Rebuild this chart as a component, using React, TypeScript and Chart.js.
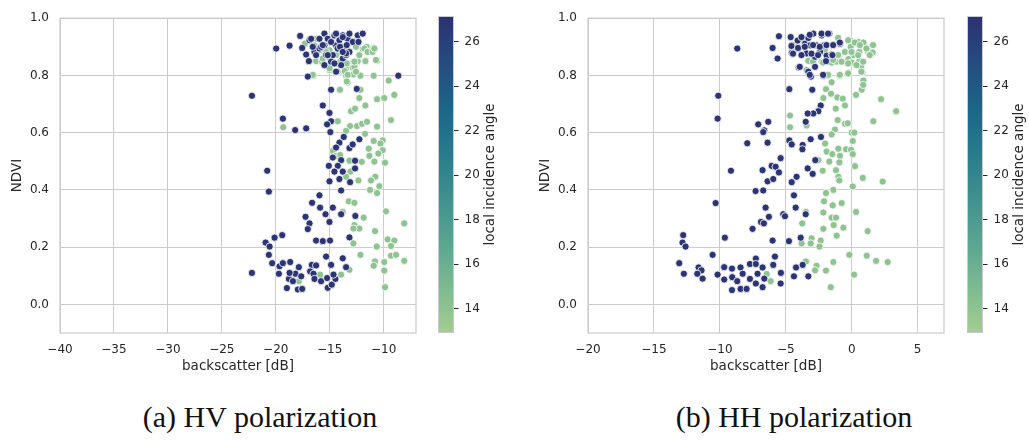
import React, { useEffect, useRef } from "react";
import { Chart, registerables } from "chart.js";

Chart.register(...registerables);

// ---------------- data ----------------
const hvDarkX = [
  -17.74, -19.96, -18.72, -17.55, -16.87, -17.18, -16.93, -16.41, -15.95, -15.49, -15.49, -15.18, -15.02, -14.56,
  -14.41, -13.79, -13.64, -13.33, -13.17, -12.87, -13.79, -12.4, -11.94, -15.49, -14.41, -14.71, -15.95, -14.1,
  -13.48, -17.03, -8.64, -22.21, -14.87, -12.49, -15.64, -15.02, -14.87, -15.24, -14.94, -19.34, -18.2, -17.18,
  -13.7, -14.1, -14.41, -13.17, -12.87, -12.25, -14.71, -13.94, -15.08, -14.25, -14.56, -13.79, -12.65, -12.65,
  -14.1, -13.11, -15.02, -13.94, -20.79, -20.64, -15.95, -16.63, -15.89, -14.71, -15.39, -13.94, -12.62, -17.24,
  -16.87, -15.02, -17.03, -19.4, -20.11, -16.26, -15.64, -14.97, -13.17, -20.94, -20.57, -20.64, -15.33, -13.79,
  -20.33, -22.21, -19.65, -19.34, -18.66, -19.71, -18.78, -18.97, -18.17, -17.86, -17.64, -17.95, -17.55, -16.66,
  -16.26, -16.81, -16.5, -16.41, -15.8, -15.24, -15.18, -14.81, -14.47, -14.87, -13.48, -14.65, -18.72, -18.41,
  -16.57, -15.79, -15.33, -14.26, -13.48, -14.87, -13.94, -16.87, -14.41, -13.79, -13.17, -16.72, -15.64, -14.87,
  -14.04, -13.42, -12.33, -16.26, -15.18, -13.79, -14.56,
];
const hvDarkY = [
  0.938, 0.894, 0.904, 0.896, 0.926, 0.873, 0.85, 0.882, 0.928, 0.946, 0.905, 0.928, 0.865, 0.94,
  0.905, 0.94, 0.9, 0.928, 0.882, 0.917, 0.859, 0.94, 0.946, 0.836, 0.813, 0.871, 0.894, 0.923,
  0.871, 0.796, 0.799, 0.729, 0.75, 0.753, 0.695, 0.669, 0.64, 0.629, 0.602, 0.649, 0.609, 0.615,
  0.585, 0.565, 0.548, 0.546, 0.559, 0.577, 0.513, 0.504, 0.484, 0.484, 0.464, 0.464, 0.502, 0.475,
  0.438, 0.427, 0.43, 0.398, 0.467, 0.394, 0.381, 0.355, 0.338, 0.338, 0.315, 0.315, 0.309, 0.306,
  0.283, 0.288, 0.263, 0.242, 0.233, 0.223, 0.221, 0.223, 0.234, 0.216, 0.202, 0.173, 0.167, 0.161,
  0.144, 0.11, 0.133, 0.144, 0.148, 0.107, 0.089, 0.057, 0.107, 0.13, 0.098, 0.052, 0.054, 0.138,
  0.136, 0.115, 0.107, 0.089, 0.081, 0.092, 0.058, 0.069, 0.089, 0.138, 0.13, 0.104, 0.11, 0.081,
  0.9, 0.9, 0.871, 0.894, 0.877, 0.848, 0.836, 0.923, 0.946, 0.934, 0.946, 0.928, 0.906, 0.917,
  0.9, 0.906, 0.917, 0.871, 0.871, 0.882, 0.842,
];
const hvLightX = [
  -17.3, -16.26, -16.41, -16.01, -16.26, -15.73, -15.02, -14.71, -15.02, -14.25, -14.16, -13.48, -13.33, -12.8,
  -12.87, -12.4, -12.25, -11.94, -11.57, -11.17, -10.95, -11.69, -10.61, -12.56, -13.48, -13.33, -12.8, -12.15,
  -10.92, -16.5, -9.53, -9.01, -9.94, -10.61, -11.69, -12.25, -12.15, -14.1, -13.02, -12.65, -14.25, -13.11,
  -12.47, -12.0, -11.54, -13.48, -11.72, -10.61, -9.32, -19.31, -10.92, -10.09, -10.3, -11.38, -10.09, -14.71,
  -14.41, -14.03, -11.32, -10.49, -13.17, -12.03, -10.86, -9.87, -13.08, -13.48, -10.77, -12.34, -11.17, -10.4,
  -11.26, -10.61, -13.23, -12.71, -13.79, -11.85, -9.78, -12.71, -12.25, -12.8, -8.09, -10.8, -12.8, -10.64,
  -9.63, -9.01, -9.32, -12.15, -9.32, -8.85, -10.8, -9.94, -8.09, -10.92, -9.94, -9.87, -13.17, -13.94,
  -15.89, -17.86, -14.56, -11.79, -12.71, -16.57, -13.6, -15.95, -15.33, -14.41, -14.04, -13.42, -12.71, -11.49,
  -11.02, -10.86, -10.71, -15.64, -15.02, -14.26, -13.33, -12.56, -13.42, -14.04,
];
const hvLightY = [
  0.911, 0.928, 0.905, 0.888, 0.85, 0.85, 0.888, 0.842, 0.819, 0.842, 0.811, 0.842, 0.83, 0.848,
  0.827, 0.85, 0.871, 0.892, 0.9, 0.885, 0.896, 0.85, 0.851, 0.9, 0.799, 0.775, 0.804, 0.799,
  0.799, 0.799, 0.782, 0.732, 0.721, 0.717, 0.695, 0.721, 0.75, 0.75, 0.675, 0.684, 0.64, 0.623,
  0.623, 0.631, 0.638, 0.606, 0.596, 0.621, 0.644, 0.619, 0.571, 0.573, 0.562, 0.544, 0.539, 0.536,
  0.519, 0.522, 0.519, 0.527, 0.502, 0.498, 0.499, 0.495, 0.464, 0.446, 0.446, 0.433, 0.433, 0.413,
  0.4, 0.389, 0.36, 0.355, 0.323, 0.303, 0.325, 0.277, 0.265, 0.265, 0.283, 0.256, 0.213, 0.202,
  0.227, 0.223, 0.204, 0.173, 0.17, 0.173, 0.15, 0.148, 0.152, 0.135, 0.118, 0.06, 0.121, 0.104,
  0.104, 0.081, 0.842, 0.894, 0.83, 0.802, 0.815, 0.888, 0.882, 0.871, 0.848, 0.842, 0.848, 0.882,
  0.882, 0.894, 0.854, 0.859, 0.825, 0.813, 0.802, 0.813, 0.779, 0.75,
];

const hhDarkX = [
  -8.68, -5.52, -6.0, -5.62, -4.63, -4.53, -4.55, -4.05, -3.8, -3.54, -3.29, -2.91, -3.16, -3.42,
  -2.66, -2.28, -1.7, -2.1, -2.4, -2.78, -1.9, -1.52, -1.39, -0.89, -1.95, -4.02, -2.78, -3.29,
  -3.09, -2.15, -4.1, -4.73, -2.99, -10.12, -10.17, -2.35, -2.53, -2.91, -3.34, -3.49, -7.09, -6.33,
  -6.63, -6.71, -7.92, -6.38, -4.73, -4.55, -3.72, -3.74, -3.11, -2.33, -5.39, -6.07, -5.77, -6.76,
  -5.52, -9.16, -6.38, -5.95, -4.18, -4.55, -3.34, -2.76, -2.96, -7.29, -6.71, -4.38, -10.32, -6.53,
  -4.25, -5.19, -5.06, -3.49, -6.88, -6.66, -6.28, -7.52, -12.78, -12.83, -12.6, -9.62, -6.0, -4.76,
  -3.87, -10.55, -13.08, -12.73, -11.61, -11.39, -11.71, -11.31, -10.17, -9.67, -9.67, -9.08, -9.06, -9.08,
  -8.68, -8.43, -8.27, -8.43, -7.97, -7.72, -7.27, -7.27, -7.72, -7.14, -7.27, -6.76, -6.63, -6.76,
  -5.95, -5.82, -5.37, -5.39, -4.38, -4.22, -3.72, -3.29, -4.57, -3.81, -3.18, -2.29, -1.79, -4.07,
  -3.56, -2.93, -2.42, -1.91, -1.41, -0.9, -4.45, -3.81, -3.05, -2.55, -1.46, -3.94, -3.18, -2.17,
];
const hhDarkY = [
  0.894, 0.937, 0.896, 0.859, 0.934, 0.905, 0.879, 0.894, 0.931, 0.911, 0.931, 0.946, 0.905, 0.877,
  0.905, 0.94, 0.946, 0.905, 0.882, 0.865, 0.869, 0.873, 0.907, 0.911, 0.85, 0.828, 0.83, 0.813,
  0.796, 0.799, 0.922, 0.752, 0.75, 0.729, 0.649, 0.695, 0.675, 0.667, 0.667, 0.638, 0.629, 0.638,
  0.608, 0.602, 0.563, 0.565, 0.573, 0.559, 0.557, 0.542, 0.577, 0.585, 0.511, 0.484, 0.481, 0.469,
  0.461, 0.467, 0.43, 0.438, 0.446, 0.427, 0.475, 0.504, 0.456, 0.396, 0.398, 0.381, 0.354, 0.338,
  0.338, 0.315, 0.308, 0.315, 0.288, 0.283, 0.306, 0.264, 0.242, 0.216, 0.202, 0.233, 0.223, 0.221,
  0.233, 0.173, 0.144, 0.107, 0.129, 0.119, 0.107, 0.09, 0.104, 0.13, 0.087, 0.125, 0.095, 0.05,
  0.081, 0.129, 0.107, 0.054, 0.054, 0.141, 0.16, 0.141, 0.089, 0.107, 0.073, 0.129, 0.09, 0.06,
  0.138, 0.167, 0.11, 0.073, 0.098, 0.129, 0.138, 0.098, 0.903, 0.934, 0.942, 0.946, 0.946, 0.896,
  0.9, 0.906, 0.9, 0.906, 0.906, 0.915, 0.876, 0.871, 0.876, 0.871, 0.871, 0.83, 0.802, 0.802,
];
const hhLightX = [
  -1.01, -0.13, 0.51, 0.89, 1.52, 1.64, 1.21, 1.59, -2.02, -0.96, -0.51, -0.08, 0.13, 0.58,
  -3.29, -2.28, -1.52, -1.14, -0.25, 0.0, 0.58, 0.71, 0.81, 0.89, 0.76, 0.33, -0.25, -0.94,
  -1.77, -1.52, -1.95, -1.57, -2.15, -1.09, -0.68, -0.51, -1.21, 2.23, 3.37, 1.64, -1.06, -0.51,
  -0.3, -1.27, -1.52, 0.0, 0.2, 0.08, -4.68, -4.68, -3.42, -2.02, -1.01, -0.43, -0.05, -1.9,
  -1.47, -0.89, 0.08, -2.53, -1.7, -0.94, 0.25, -2.2, -1.19, -1.01, -0.94, 0.84, 2.35, 0.08,
  -1.95, -1.39, -2.1, -1.44, -0.76, -3.47, -2.15, 0.33, -1.52, -1.19, -3.75, -1.37, -2.15, -0.63,
  1.21, -1.14, -3.04, -2.35, -3.8, -3.11, -2.45, -0.18, 1.14, 1.85, 2.73, -3.47, -1.39, -2.66,
  -2.78, -1.95, 0.18, -1.59, -6.45, -6.15, -1.03, -0.27, 0.24, 0.62, 1.12, 1.62, 1.37, -2.04,
  -1.66, -1.03, -0.52, -0.01, 0.49, 0.87, -2.93, -2.17, -1.41, -0.77, -0.27, 0.36, 0.74, -3.43,
  -1.79, -0.9, -0.27, 0.87,
];
const hhLightY = [
  0.931, 0.923, 0.917, 0.915, 0.9, 0.905, 0.885, 0.88, 0.888, 0.871, 0.882, 0.9, 0.871, 0.882,
  0.851, 0.848, 0.845, 0.848, 0.857, 0.845, 0.85, 0.83, 0.811, 0.782, 0.75, 0.732, 0.81, 0.799,
  0.799, 0.776, 0.752, 0.736, 0.721, 0.723, 0.719, 0.695, 0.684, 0.717, 0.675, 0.64, 0.644, 0.631,
  0.633, 0.611, 0.594, 0.6, 0.6, 0.571, 0.66, 0.619, 0.625, 0.562, 0.544, 0.542, 0.54, 0.534,
  0.525, 0.519, 0.525, 0.504, 0.499, 0.496, 0.483, 0.467, 0.469, 0.446, 0.433, 0.442, 0.429, 0.412,
  0.389, 0.4, 0.36, 0.346, 0.354, 0.323, 0.321, 0.323, 0.303, 0.303, 0.283, 0.277, 0.264, 0.268,
  0.256, 0.24, 0.231, 0.223, 0.213, 0.213, 0.202, 0.173, 0.17, 0.152, 0.148, 0.15, 0.148, 0.135,
  0.119, 0.118, 0.104, 0.06, 0.106, 0.081, 0.931, 0.923, 0.915, 0.906, 0.894, 0.906, 0.871, 0.888,
  0.871, 0.871, 0.882, 0.882, 0.871, 0.848, 0.848, 0.845, 0.854, 0.848, 0.842, 0.836, 0.813, 0.819,
  0.802, 0.802, 0.807, 0.767,
];

const darkAngle = 26.8;
const lightAngle = 14.0;
const angleMin = 12.9;
const angleMax = 27.15;
const angleTicks = [14, 16, 18, 20, 22, 24, 26];
const ndviTicks = [0, 0.2, 0.4, 0.6, 0.8, 1.0];
const hvXTicks = [-40, -35, -30, -25, -20, -15, -10];
const hhXTicks = [-20, -15, -10, -5, 0, 5];
const crestStops = ["#a5cd90", "#7dba91", "#59a590", "#40908e", "#287a8c", "#1c6488", "#254b7f", "#2c3172"];

// ---------------- helpers ----------------
const INK = "#262626";
const GRID = "#cccccc";
const SANS = "'DejaVu Sans', sans-serif";

function hexToRgb(h: string) {
  const n = parseInt(h.slice(1), 16);
  return [(n >> 16) & 255, (n >> 8) & 255, n & 255];
}
function cmap(v: number) {
  let t = (v - angleMin) / (angleMax - angleMin);
  t = Math.max(0, Math.min(1, t));
  const n = crestStops.length - 1;
  const p = t * n;
  const i = Math.min(Math.floor(p), n - 1);
  const f = p - i;
  const a = hexToRgb(crestStops[i]);
  const b = hexToRgb(crestStops[i + 1]);
  const c = a.map((x, k) => Math.round(x + (b[k] - x) * f));
  return `rgb(${c[0]},${c[1]},${c[2]})`;
}
function fmtX(v: number) {
  return v < 0 ? "\u2212" + Math.abs(v) : String(v);
}

const framePlugin = {
  id: "frame",
  beforeDatasetsDraw(chart: any) {
    const { ctx, chartArea: a } = chart;
    ctx.save();
    ctx.strokeStyle = GRID;
    ctx.lineWidth = 1.25;
    ctx.strokeRect(a.left, a.top, a.right - a.left, a.bottom - a.top);
    ctx.restore();
  },
};

function ScatterPanel(props: {
  darkX: number[]; darkY: number[]; lightX: number[]; lightY: number[];
  xMin: number; xMax: number; xTicks: number[]; left: number;
}) {
  const ref = useRef<HTMLCanvasElement>(null);
  useEffect(() => {
    const pts = (xs: number[], ys: number[]) => xs.map((x, i) => ({ x, y: ys[i] }));
    const ds = (xs: number[], ys: number[], ang: number) => ({
      data: pts(xs, ys),
      backgroundColor: cmap(ang),
      borderColor: "#ffffff",
      borderWidth: 0.8,
      pointRadius: 3.6,
      pointHoverRadius: 3.6,
    });
    const chart = new Chart(ref.current as HTMLCanvasElement, {
      type: "scatter",
      data: {
        datasets: [
          ds(props.darkX, props.darkY, darkAngle) as any,
          ds(props.lightX, props.lightY, lightAngle) as any,
        ],
      },
      options: {
        responsive: false,
        animation: false,
        events: [],
        layout: { padding: { left: 0, top: 16, right: 14, bottom: 0 } },
        plugins: { legend: { display: false }, tooltip: { enabled: false } },
        scales: {
          x: {
            type: "linear",
            min: props.xMin,
            max: props.xMax,
            afterBuildTicks: (s: any) => { s.ticks = props.xTicks.map((v) => ({ value: v })); },
            afterFit: (s: any) => { s.height = 57; },
            grid: { color: GRID, lineWidth: 1, drawTicks: false },
            border: { display: false },
            ticks: {
              padding: 10, color: INK, font: { family: SANS, size: 12 }, maxRotation: 0, autoSkip: false,
              callback: (v: any) => fmtX(Number(v)),
            },
            title: {
              display: true, text: "backscatter [dB]", color: INK,
              font: { family: SANS, size: 13.5 }, padding: { top: 0, bottom: 15 },
            },
          },
          y: {
            type: "linear",
            min: -0.1,
            max: 1.0,
            afterBuildTicks: (s: any) => { s.ticks = ndviTicks.map((v) => ({ value: v })); },
            afterFit: (s: any) => { s.width = 60; },
            grid: { color: GRID, lineWidth: 1, drawTicks: false },
            border: { display: false },
            ticks: {
              padding: 11, color: INK, font: { family: SANS, size: 12 },
              callback: (v: any) => Number(v).toFixed(1),
            },
            title: {
              display: true, text: "NDVI", color: INK,
              font: { family: SANS, size: 13.5 }, padding: { top: 9, bottom: 0 },
            },
          },
        },
      } as any,
      plugins: [framePlugin],
    });
    return () => chart.destroy();
  }, []);
  return (
    <canvas
      ref={ref}
      width={430}
      height={390}
      style={{ position: "absolute", left: props.left, top: 0, width: 430, height: 390 }}
    />
  );
}

function ColorBar(props: { left: number; width: number }) {
  const ref = useRef<HTMLCanvasElement>(null);
  useEffect(() => {
    const barPlugin = {
      id: "bar",
      beforeDraw(chart: any) {
        const { ctx, chartArea: a, scales } = chart;
        const y = scales.y;
        const g = ctx.createLinearGradient(0, y.getPixelForValue(angleMin), 0, y.getPixelForValue(angleMax));
        crestStops.forEach((c, i) => g.addColorStop(i / (crestStops.length - 1), c));
        ctx.save();
        ctx.fillStyle = g;
        ctx.fillRect(a.left, a.top, a.right - a.left, a.bottom - a.top);
        ctx.strokeStyle = "#c9c9d2";
        ctx.lineWidth = 1;
        ctx.strokeRect(a.left + 0.5, a.top + 0.5, a.right - a.left - 1, a.bottom - a.top - 1);
        ctx.restore();
      },
      afterDraw(chart: any) {
        const { ctx, chartArea: a } = chart;
        ctx.save();
        ctx.translate(a.right + 36, (a.top + a.bottom) / 2);
        ctx.rotate(-Math.PI / 2);
        ctx.fillStyle = INK;
        ctx.font = `13.5px ${SANS}`;
        ctx.textAlign = "center";
        ctx.textBaseline = "middle";
        ctx.fillText("local incidence angle", 0, 0);
        ctx.restore();
      },
    };
    const chart = new Chart(ref.current as HTMLCanvasElement, {
      type: "scatter",
      data: { datasets: [] },
      options: {
        responsive: false,
        animation: false,
        events: [],
        layout: { padding: { left: 8, top: 16, right: 0, bottom: 57 } },
        plugins: { legend: { display: false }, tooltip: { enabled: false } },
        scales: {
          x: { type: "linear", display: false, min: 0, max: 1 },
          y: {
            type: "linear",
            position: "right",
            min: angleMin,
            max: angleMax,
            afterBuildTicks: (s: any) => { s.ticks = angleTicks.map((v) => ({ value: v })); },
            afterFit: (s: any) => { s.width = props.width - 8 - 16; },
            grid: { drawOnChartArea: false, drawTicks: true, tickLength: 4.5, tickColor: INK, tickWidth: 1 },
            border: { display: false },
            ticks: { padding: 6, color: INK, font: { family: SANS, size: 12 }, callback: (v: any) => String(v) },
          },
        },
      } as any,
      plugins: [barPlugin],
    });
    return () => chart.destroy();
  }, []);
  return (
    <canvas
      ref={ref}
      width={props.width}
      height={390}
      style={{ position: "absolute", left: props.left, top: 0, width: props.width, height: 390 }}
    />
  );
}

const captionStyle: React.CSSProperties = {
  position: "absolute",
  top: 402,
  width: 520,
  textAlign: "center",
  fontFamily: "'Liberation Serif', serif",
  fontSize: 30,
  lineHeight: "30px",
  color: "#111111",
  whiteSpace: "nowrap",
};

export default function App() {
  return (
    <div
      style={{
        position: "absolute", left: 0, top: 0, width: 1029, height: 440,
        overflow: "hidden", background: "#ffffff",
      }}
    >
      <ScatterPanel darkX={hvDarkX} darkY={hvDarkY} lightX={hvLightX} lightY={hvLightY}
        xMin={-40} xMax={-7} xTicks={hvXTicks} left={0} />
      <ColorBar left={430} width={80} />
      <ScatterPanel darkX={hhDarkX} darkY={hhDarkY} lightX={hhLightX} lightY={hhLightY}
        xMin={-20} xMax={7} xTicks={hhXTicks} left={528} />
      <ColorBar left={959} width={70} />
      <div style={{ ...captionStyle, left: 0 }}>(a) HV polarization</div>
      <div style={{ ...captionStyle, left: 534 }}>(b) HH polarization</div>
    </div>
  );
}
